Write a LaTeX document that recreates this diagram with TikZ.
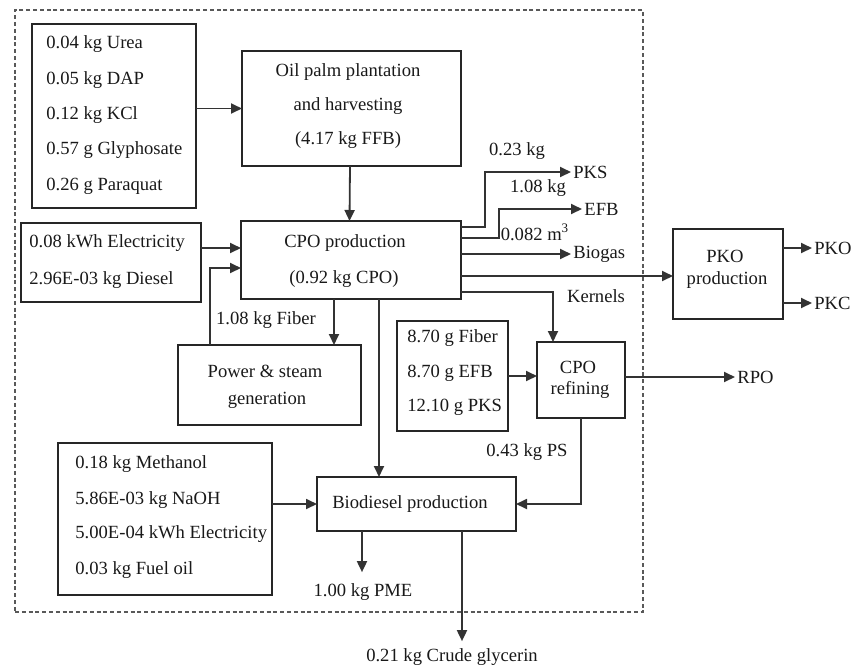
\documentclass[tikz,border=0pt]{standalone}
\usepackage{fontspec}
\setmainfont{Liberation Serif}
\usetikzlibrary{arrows.meta}
\begin{document}
\begin{tikzpicture}[x=0.5pt,y=-0.5pt,
  every node/.style={font=\fontsize{9.3pt}{11pt}\selectfont, text=black!90},
  box/.style={draw=black!85, line width=1.1pt, inner sep=0pt, outer sep=0pt, rectangle},
  txt/.style={inner sep=1pt},
  ltxt/.style={inner sep=1pt, anchor=west},
  arr/.style={draw=black!80, line width=0.9pt, -{Triangle[length=5.5pt,width=5pt]}},
  boundary/.style={draw=black!65, line width=0.9pt, dash pattern=on 2pt off 1.4pt, inner sep=0pt, outer sep=0pt}]
\useasboundingbox (0,0) rectangle (858,671);

% system boundary
\node[boundary, minimum width=314pt, minimum height=301pt] (system) at (329,311) {};

% process boxes
\node[box, minimum width=82pt, minimum height=92pt] (fert) at (114,116) {};
\node[box, minimum width=109.5pt, minimum height=57.5pt] (plant) at (351.5,108.5) {};
\node[box, minimum width=90pt, minimum height=39.5pt] (elec) at (111,262.5) {};
\node[box, minimum width=110pt, minimum height=39pt] (cpo) at (351,260) {};
\node[box, minimum width=91.5pt, minimum height=40pt] (power) at (269.5,385) {};
\node[box, minimum width=55pt, minimum height=45pt] (pko) at (728,274) {};
\node[box, minimum width=55.5pt, minimum height=55pt] (feed) at (452.5,376) {};
\node[box, minimum width=44pt, minimum height=38pt] (refine) at (581,380) {};
\node[box, minimum width=107pt, minimum height=76pt] (meth) at (165,519) {};
\node[box, minimum width=99.5pt, minimum height=27pt] (bio) at (416.5,504) {};

% fertiliser and pesticide inputs
\node[ltxt] (f1) at (44,44) {0.04 kg Urea};
\node[ltxt] (f2) at (44,80) {0.05 kg DAP};
\node[ltxt] (f3) at (44,115) {0.12 kg KCl};
\node[ltxt] (f4) at (44,150) {0.57 g Glyphosate};
\node[ltxt] (f5) at (44,186) {0.26 g Paraquat};

% plantation
\node[txt] (p1) at (348,72) {Oil palm plantation};
\node[txt] (p2) at (348,106) {and harvesting};
\node[txt] (p3) at (348,140) {(4.17 kg FFB)};

% mill energy inputs
\node[ltxt] (e1) at (27,243) {0.08 kWh Electricity};
\node[ltxt] (e2) at (27,280) {2.96E-03 kg Diesel};

% CPO production
\node[txt] (c1) at (345,243) {CPO production};
\node[txt] (c2) at (344,279) {(0.92 kg CPO)};

% power plant
\node[txt] (w1) at (265,371) {Power \& steam};
\node[txt] (w2) at (267,400) {generation};

% kernel crushing
\node[txt] (k1) at (725,256) {PKO};
\node[txt] (k2) at (727,280) {production};

% refinery fuels
\node[ltxt] (r1) at (405,338) {8.70 g Fiber};
\node[ltxt] (r2) at (405,373) {8.70 g EFB};
\node[ltxt] (r3) at (405,407) {12.10 g PKS};

% refinery
\node[txt] (g1) at (578,367) {CPO};
\node[txt] (g2) at (580,390) {refining};

% transesterification inputs
\node[ltxt] (m1) at (73,464) {0.18 kg Methanol};
\node[ltxt] (m2) at (73,500) {5.86E-03 kg NaOH};
\node[ltxt] (m3) at (73,534) {5.00E-04 kWh Electricity};
\node[ltxt] (m4) at (73,570) {0.03 kg Fuel oil};

% biodiesel plant
\node[txt] (b1) at (410,504) {Biodiesel production};

% output and flow labels
\node[ltxt] (pks) at (571,172) {PKS};
\node[ltxt] (efb) at (582,209) {EFB};
\node[ltxt] (biogas) at (571,254) {Biogas};
\node[txt] (kernels) at (596,296) {Kernels};
\node[txt] (q1) at (517,151) {0.23 kg};
\node[txt] (q2) at (538,188) {1.08 kg};
\node[txt] (q3) at (535,232) {0.082 m\textsuperscript{3}};
\node[txt] (fiber) at (266,320) {1.08 kg Fiber};
\node[ltxt] (pkoout) at (812,248) {PKO};
\node[ltxt] (pkcout) at (812,303) {PKC};
\node[ltxt] (rpo) at (735,377) {RPO};
\node[txt] (ps) at (527,452) {0.43 kg PS};
\node[txt] (pme) at (363,592) {1.00 kg PME};
\node[txt] (glyc) at (452,657) {0.21 kg Crude glycerin};

% flows
\draw[arr] (fert.east |- plant.west) -- (plant.west);
\draw[arr] ([xshift=-0.75pt]plant.south) -- ([xshift=-0.75pt]cpo.north);
\draw[arr] ([yshift=7.25pt]elec.east) -- ([yshift=7.25pt]elec.east -| cpo.west);
\draw[arr] ([xshift=16pt]power.north west) |- ([yshift=-4pt]cpo.west);
\draw[arr] ([xshift=-8.5pt]cpo.south) -- ([xshift=-8.5pt]cpo.south |- power.north);
\draw[arr] ([xshift=14pt]cpo.south) -- ([xshift=14pt]cpo.south |- bio.north);

\draw[arr] ([yshift=16.5pt]cpo.east) -- ++(12pt,0) |- (pks.west);
\draw[arr] ([yshift=11pt]cpo.east) -- ++(19pt,0) |- (efb.west);
\draw[arr] (biogas.west -| cpo.east) -- (biogas.west);
\draw[arr] ([yshift=-8pt]cpo.east) -- ([yshift=-8pt]cpo.east -| pko.west);
\draw[arr] ([yshift=-16pt]cpo.east) -| ([xshift=-14pt]refine.north);

\draw[arr] (pkoout.west -| pko.east) -- (pkoout.west);
\draw[arr] (pkcout.west -| pko.east) -- (pkcout.west);

\draw[arr] (feed.east) -- (feed.east -| refine.west);
\draw[arr] (rpo.west -| refine.east) -- (rpo.west);
\draw[arr] (refine.south) |- (bio.east);

\draw[arr] (bio.west -| meth.east) -- (bio.west);
\draw[arr] ([xshift=-27.25pt]bio.south) -- ([xshift=-27.25pt,yshift=4.5pt]bio.south |- pme.north);
\draw[arr] ([xshift=22.75pt]bio.south) -- ([xshift=22.75pt,yshift=2.5pt]bio.south |- glyc.north);
\end{tikzpicture}
\end{document}
